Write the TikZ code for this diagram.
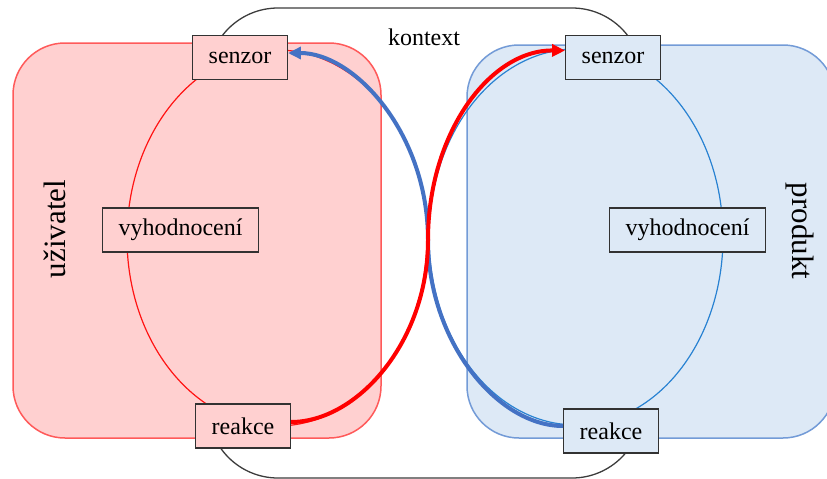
\documentclass[tikz,border=0pt]{standalone}
\usepackage{fontspec}
\setmainfont{Liberation Serif}
\usetikzlibrary{arrows.meta}
\definecolor{pinkfill}{RGB}{255,208,208}
\definecolor{pinkline}{RGB}{255,90,90}
\definecolor{bluefill}{RGB}{221,233,246}
\definecolor{blueline}{RGB}{115,155,215}
\definecolor{ellred}{RGB}{255,20,20}
\definecolor{ellblue}{RGB}{40,130,210}
\definecolor{arrblue}{RGB}{68,114,196}
\definecolor{arrred}{RGB}{255,0,0}
\definecolor{boxline}{RGB}{50,50,50}
\definecolor{ctxline}{RGB}{60,60,60}
\begin{document}
\begin{tikzpicture}[x=1pt,y=-1pt,
  box/.style={draw=boxline, line width=1.3pt, inner xsep=16pt, inner ysep=0pt, minimum height=44pt, font=\fontsize{24}{28}\selectfont},
  pinkbox/.style={box, fill=pinkfill},
  bluebox/.style={box, fill=bluefill},
  biglabel/.style={font=\fontsize{31}{36}\selectfont, inner sep=0pt},
  flow/.style={line width=4pt, -{Triangle[length=13pt,width=12pt]}}
]
\useasboundingbox (0,0) rectangle (827,479);
% context
\draw[ctxline, line width=1.3pt, fill=white, rounded corners=70pt] (208,8) rectangle (642,478);
% regions
\draw[pinkline, line width=1.5pt, fill=pinkfill, rounded corners=52pt] (13,43) rectangle (381,438);
\draw[blueline, line width=1.5pt, fill=bluefill, rounded corners=52pt] (467,45) rectangle (835,438);
% cycles
\draw[ellred, line width=1.2pt] (277,238) ellipse [x radius=150pt, y radius=188pt];
\draw[ellblue, line width=1.2pt] (576,237) ellipse [x radius=147pt, y radius=188pt];
% nodes
\node[pinkbox] (ls) at (240,57.5) {senzor};
\node[pinkbox] (lv) at (180.5,230) {vyhodnocení};
\node[pinkbox] (lr) at (243,426) {reakce};
\node[bluebox] (rs) at (613,57.5) {senzor};
\node[bluebox] (rv) at (687.5,230) {vyhodnocení};
\node[bluebox] (rr) at (611,431) {reakce};
% labels
\node[font=\fontsize{24}{28}\selectfont, inner sep=0pt] (ctx) at (424,37) {kontext};
\node[biglabel, rotate=90] (uz) at (55,229) {uživatel};
\node[biglabel, rotate=-90] (pr) at (800,231) {produkt};
% flows
\draw[arrblue, flow] ([yshift=5pt]rr.west) .. controls (497,426) and (428,341) .. (428,240) .. controls (428,134) and (355,53) .. ([yshift=4.5pt]ls.east);
\draw[arrred, flow] ([yshift=4pt]lr.east) .. controls (357,422) and (428,342) .. (428,240) .. controls (428,133) and (490,50) .. ([yshift=7pt]rs.west);
\end{tikzpicture}
\end{document}
